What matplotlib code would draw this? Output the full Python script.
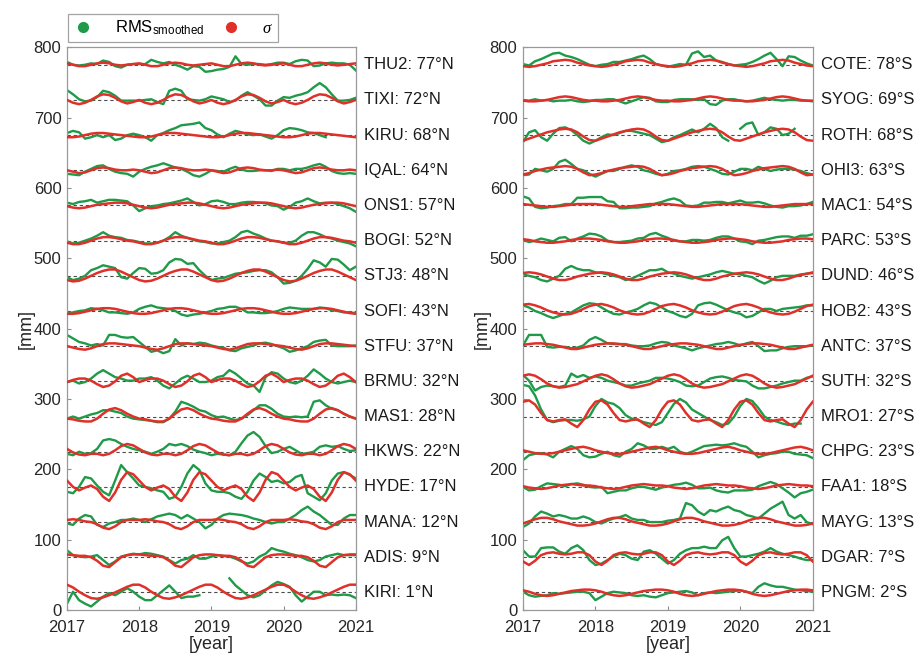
import numpy as np
import matplotlib.pyplot as plt
from matplotlib.lines import Line2D

nan = np.nan

# monthly epochs, Jan 2017 .. Jan 2021
years = 2017 + np.arange(49) / 12.0

# vertical offsets of the stacked station series [mm]
offsets = np.arange(775, 0, -50)

labels_north = ["THU2: 77°N", "TIXI: 72°N", "KIRU: 68°N", "IQAL: 64°N",
                "ONS1: 57°N", "BOGI: 52°N", "STJ3: 48°N", "SOFI: 43°N",
                "STFU: 37°N", "BRMU: 32°N", "MAS1: 28°N", "HKWS: 22°N",
                "HYDE: 17°N", "MANA: 12°N", "ADIS: 9°N", "KIRI: 1°N"]
labels_south = ["COTE: 78°S", "SYOG: 69°S", "ROTH: 68°S", "OHI3: 63°S",
                "MAC1: 54°S", "PARC: 53°S", "DUND: 46°S", "HOB2: 43°S",
                "ANTC: 37°S", "SUTH: 32°S", "MRO1: 27°S", "CHPG: 23°S",
                "FAA1: 18°S", "MAYG: 13°S", "DGAR: 7°S", "PNGM: 2°S"]

# smoothed RMS, monthly, deviation from offset [mm]
rms_thu2 = [4,0,-1,0,2,1,6,4,-2,-4,0,1,1,1,7,4,2,4,0,-3,-7,-2,-3,-10,-9,-7,-6,-3,12,1,0,1,1,0,1,3,3,1,5,7,6,-2,-1,2,3,2,2,0,-8]
rms_tixi = [14,8,1,-2,-1,4,13,11,6,-1,-1,-1,-1,0,1,-3,-6,13,16,13,1,0,-1,1,5,3,1,-3,-1,6,11,6,1,-8,-8,-1,4,3,6,8,11,18,24,18,8,-1,-1,0,3]
rms_kiru = [3,6,4,-5,-3,0,-3,0,-7,-5,0,2,0,-3,-8,0,3,7,10,14,15,16,18,10,7,1,-3,2,6,4,1,0,1,-2,-5,0,7,10,9,7,4,3,0,-3,nan,nan,nan,nan,nan]
rms_iqal = [-5,-6,-7,-2,2,6,7,2,-2,-4,-5,-9,-2,2,5,7,10,7,4,2,-2,-7,-9,-5,0,-1,-2,2,5,1,-1,-1,0,0,-1,2,2,0,2,2,4,7,9,5,-1,-4,-5,-4,-5]
rms_ons1 = [4,2,5,6,8,4,6,8,8,7,6,0,-8,-4,-1,0,2,3,5,7,10,5,0,2,6,7,5,2,2,4,5,5,4,3,0,-1,-6,-2,4,6,10,6,3,4,4,2,-1,-4,-9]
rms_bogi = [-1,-4,-3,0,3,7,12,7,5,4,1,0,-2,-4,-4,-3,0,5,12,7,4,1,-1,-2,-4,-4,-2,0,5,12,14,10,7,3,0,-1,-3,-3,0,7,12,12,9,5,3,0,-2,-4,-8]
rms_stj3 = [-2,-6,-4,0,8,11,15,13,11,-2,-4,4,11,10,3,4,8,19,24,23,17,18,8,0,-6,-4,-3,0,3,4,5,7,8,8,5,-2,-11,-10,-7,0,10,22,19,13,24,23,16,8,13]
rms_sofi = [-3,-2,0,1,4,3,1,-2,-2,-3,-4,-2,3,6,8,5,4,3,0,-5,-7,-5,-4,-2,0,3,4,6,6,3,-2,-2,-3,-3,-2,0,3,5,4,3,3,3,5,4,1,0,-2,-2,-3]
rms_stfu = [16,11,6,4,1,3,1,16,16,13,12,13,6,-1,-8,-6,-10,-7,10,1,4,3,5,4,1,-1,-2,-6,-7,-3,-1,1,4,5,3,0,-3,-8,-6,-3,0,6,8,9,1,0,0,0,1]
rms_brmu = [-1,1,-3,-1,4,11,16,11,6,4,1,1,4,4,6,1,-6,-10,-3,4,8,4,-1,-1,1,6,8,16,11,4,-3,-6,-15,6,13,11,4,-1,-3,1,8,17,11,4,-1,-3,-1,1,-1]
rms_mas1 = [-3,0,-3,0,3,5,9,9,7,5,0,-3,-4,-5,-6,-8,-8,-3,7,21,18,14,9,7,2,-1,0,-3,-5,-3,2,9,16,16,11,4,0,-1,0,-1,0,21,23,16,11,9,4,0,-3]
rms_hkws = [-3,-5,0,-3,-2,4,16,18,16,11,7,4,2,0,-3,0,4,11,9,11,8,3,0,-2,-5,-3,-4,-5,0,12,23,28,21,8,-2,0,4,7,2,-3,-2,0,7,9,7,8,4,1,2]
rms_hyde = [-7,-9,0,14,12,2,-7,-12,9,31,21,12,2,0,-2,-5,-7,-17,-14,0,19,31,24,5,-5,-7,-7,-9,-14,-17,-7,9,19,14,7,9,5,7,14,17,-9,-14,-19,-9,9,19,21,17,12]
rms_mana = [-2,-4,5,10,8,-4,-7,-2,0,3,3,5,3,0,4,8,10,12,10,5,10,5,0,-9,-4,5,10,12,11,10,8,5,3,0,-2,0,0,5,10,17,22,15,10,3,-4,-4,5,10,10]
rms_adis = [10,3,1,0,1,3,-4,-11,-6,1,3,5,4,6,5,3,1,-4,-9,-4,-2,3,-2,-2,1,3,2,1,-2,-6,-9,-6,1,5,13,10,8,5,3,0,-4,-6,-4,1,3,5,3,3,3]
rms_kiri = [-16,1,-11,-16,-20,-13,-6,-1,-4,1,6,1,-6,-11,-11,-4,3,10,1,-8,-6,-6,-4,nan,nan,nan,nan,20,10,3,-4,-7,-4,3,10,15,12,8,-4,-13,-6,1,1,-4,-3,-4,-3,-4,-8]

rms_cote = [1,-1,5,8,12,16,17,13,11,8,4,0,-2,0,1,4,4,6,8,11,13,8,1,-1,-3,-1,1,0,16,19,11,13,6,4,1,-1,0,1,4,8,13,17,8,-2,12,11,6,2,-1]
rms_syog = [0,-1,1,-1,0,-2,-1,-1,0,-2,-3,-2,0,0,1,1,-2,-5,-2,1,4,3,-2,-3,-3,0,1,1,1,0,1,-6,-7,-1,1,1,-1,-2,-1,1,3,1,0,-1,0,0,-1,-1,-2]
rms_roth = [-10,4,7,-3,-8,2,10,11,7,0,-8,-12,-8,-3,1,0,3,6,6,4,2,0,-5,-10,-8,-3,0,4,8,4,9,16,10,-3,-8,nan,9,16,18,0,4,11,9,0,2,9,nan,nan,nan]
rms_ohi3 = [-7,-6,2,0,-2,2,12,15,9,2,0,-5,-9,-5,-1,-1,2,5,7,5,0,-2,-5,-7,-5,-1,0,2,5,6,5,2,-1,-5,-6,-2,2,2,0,5,2,-1,1,2,2,1,-1,-4,-6]
rms_mac1 = [13,10,-2,-4,-3,-1,0,2,2,11,11,12,12,12,6,5,-4,-4,-3,-3,-2,-1,3,5,8,10,7,0,-1,0,4,4,5,5,3,5,7,4,4,5,3,0,-2,-3,-1,-1,0,2,5]
rms_parc = [1,-2,0,3,1,-1,4,5,-1,3,6,10,9,6,0,-2,-2,-1,0,3,4,9,11,7,4,0,-1,-1,1,1,0,1,4,6,6,3,-1,-2,-5,0,1,3,5,6,6,4,7,7,9]
rms_dund = [2,0,-2,-6,-8,-4,0,10,14,10,8,8,5,4,2,0,-2,-6,-4,0,4,8,8,10,5,3,0,-2,-4,-2,0,2,5,7,5,3,2,0,-2,-7,-11,-7,-2,0,0,0,2,3,5]
rms_hob2 = [8,5,0,-3,-7,-10,-7,-4,-2,3,8,11,10,5,0,-4,-5,-2,0,3,8,12,10,5,0,-3,-7,-9,-4,8,11,12,9,5,1,-2,-4,-9,-7,-2,3,3,0,3,4,5,6,8,8]
rms_antc = [1,16,16,16,-1,-2,-1,-1,-3,-2,1,9,13,9,4,3,3,3,1,0,0,1,4,6,5,1,-1,-3,-6,-3,-1,1,3,4,6,4,1,4,6,0,-7,-6,-6,-3,-1,0,0,0,1]
rms_suth = [9,1,-13,-8,-6,-7,-8,-6,11,6,9,5,7,5,1,-1,-3,-6,-6,-3,-1,1,5,5,4,2,-1,-6,-7,-6,-1,4,6,7,5,2,1,0,-6,-10,-10,-8,-6,-3,-1,1,1,5,7]
rms_mro1 = [45,43,30,10,-5,-8,-6,-5,-5,-6,-4,0,15,25,20,18,12,2,-3,-5,-8,-10,-12,-8,5,18,25,20,10,5,0,-5,-8,-12,-10,0,15,25,22,12,0,-5,-7,-10,-12,-10,-10,nan,nan]
rms_chpg = [-12,-5,-3,-2,-4,-8,0,4,8,4,-5,-8,-7,-3,0,-5,-7,0,4,12,9,4,4,7,4,7,0,-3,0,4,8,9,10,9,10,12,9,7,0,-8,-5,-3,-2,0,0,-3,-4,-5,-9]
rms_faa1 = [0,-5,-4,1,5,4,3,1,4,5,3,0,-1,0,-9,-7,-5,-5,-2,0,0,-2,-4,-1,1,3,4,6,3,-2,-2,-1,-5,-7,-8,-5,-5,-5,-4,1,4,7,4,-2,-8,-15,-9,-7,-4]
rms_mayg = [-7,-2,8,15,12,8,10,8,5,5,8,5,0,-2,2,5,7,10,5,3,3,0,0,0,2,3,5,27,24,15,10,17,15,19,22,17,15,10,8,5,12,19,24,29,10,5,10,0,-3]
rms_dgar = [10,1,1,13,14,14,8,5,13,17,10,-4,-11,-9,-4,1,5,3,-2,-4,8,10,5,-2,-9,-4,5,10,13,13,15,13,13,24,29,13,1,1,3,5,8,13,8,5,3,1,-2,-4,-4]
rms_pngm = [1,-4,-6,-5,-4,-1,-2,-1,0,1,1,-1,-11,-6,-1,1,0,-1,-4,-5,-4,-6,-7,-4,-1,0,1,2,0,-4,-1,0,-1,0,1,2,3,1,-1,8,13,10,8,8,6,4,3,2,1]

# seasonal sigma, one value per calendar month (Jan..Dec) [mm]
sig_thu2 = [2,0,-2,-2,0,2,3,2,0,-1,0,1]
sig_tixi = [0,-4,-6,-4,0,5,8,7,3,-2,-5,-3]
sig_kiru = [-3,-3,-2,0,2,3,3,2,1,0,-1,-2]
sig_iqal = [0,-2,-4,-3,0,3,4,3,1,0,0,1]
sig_ons1 = [-1,-3,-4,-3,-1,1,2,3,4,4,3,1]
sig_bogi = [-3,-5,-5,-3,0,3,5,5,4,2,0,-1]
sig_stj3 = [-6,-8,-7,-4,0,4,7,9,9,6,2,-2]
sig_sofi = [-4,-4,-3,-1,1,3,4,4,3,1,-1,-3]
sig_stfu = [0,-2,-4,-5,-3,0,3,4,4,3,2,1]
sig_brmu = [-1,2,4,4,1,-4,-8,-6,0,8,11,6]
sig_mas1 = [-3,-4,-6,-7,-7,-3,4,10,12,9,4,0]
sig_hkws = [4,-1,-4,-5,-3,-3,-5,-3,2,8,11,9]
sig_hyde = [9,0,-5,-1,2,-3,-14,-20,-8,10,21,18]
sig_mana = [3,4,3,1,0,-3,-8,-10,-6,0,3,3]
sig_adis = [4,3,2,2,0,-5,-12,-14,-7,0,3,4]
sig_kiri = [11,7,1,-4,-8,-9,-7,-4,0,4,8,11]

sig_cote = [-2,-3,-2,0,2,5,6,7,6,3,1,-1]
sig_syog = [-1,-2,-2,-1,0,2,4,5,4,2,0,-1]
sig_roth = [-8,-5,-2,1,4,6,8,9,8,4,-2,-7]
sig_ohi3 = [-6,-4,-1,1,3,4,5,6,5,2,-3,-7]
sig_mac1 = [2,1,0,-1,-2,-2,-1,0,1,2,2,2]
sig_parc = [2,1,-1,-2,-3,-3,-2,-1,1,2,3,3]
sig_dund = [4,5,4,2,-1,-4,-6,-6,-4,-1,1,3]
sig_hob2 = [9,10,8,5,1,-2,-4,-5,-4,-1,3,7]
sig_antc = [2,3,4,4,3,2,0,-2,-4,-4,-2,0]
sig_suth = [8,10,8,3,-3,-7,-9,-8,-6,-4,0,4]
sig_mro1 = [21,23,17,5,-5,-7,-5,-4,-10,-15,-5,10]
sig_chpg = [2,0,-2,-3,-3,-2,0,2,4,6,7,5]
sig_faa1 = [1,-1,-2,-3,-2,0,2,3,4,3,2,2]
sig_mayg = [-2,1,4,6,6,4,1,-1,-3,-5,-5,-4]
sig_dgar = [-6,-11,-5,3,6,7,5,4,5,7,7,3]
sig_pngm = [3,1,-2,-4,-5,-4,-2,0,2,3,4,4]

rms_north = [rms_thu2, rms_tixi, rms_kiru, rms_iqal, rms_ons1, rms_bogi, rms_stj3, rms_sofi,
             rms_stfu, rms_brmu, rms_mas1, rms_hkws, rms_hyde, rms_mana, rms_adis, rms_kiri]
sig_north = [sig_thu2, sig_tixi, sig_kiru, sig_iqal, sig_ons1, sig_bogi, sig_stj3, sig_sofi,
             sig_stfu, sig_brmu, sig_mas1, sig_hkws, sig_hyde, sig_mana, sig_adis, sig_kiri]
rms_south = [rms_cote, rms_syog, rms_roth, rms_ohi3, rms_mac1, rms_parc, rms_dund, rms_hob2,
             rms_antc, rms_suth, rms_mro1, rms_chpg, rms_faa1, rms_mayg, rms_dgar, rms_pngm]
sig_south = [sig_cote, sig_syog, sig_roth, sig_ohi3, sig_mac1, sig_parc, sig_dund, sig_hob2,
             sig_antc, sig_suth, sig_mro1, sig_chpg, sig_faa1, sig_mayg, sig_dgar, sig_pngm]

GREEN = '#1f9a48'
RED = '#e0302a'

plt.rcParams['font.family'] = ['Liberation Sans', 'DejaVu Sans']
plt.rcParams['mathtext.fontset'] = 'custom'
plt.rcParams['mathtext.rm'] = 'Liberation Sans'
plt.rcParams['mathtext.it'] = 'Liberation Serif:italic'


def draw_panel(ax, labels, rms_list, sig_list):
    for base, label, rms, sig in zip(offsets, labels, rms_list, sig_list):
        # the seasonal model repeats every year
        sig_full = np.concatenate([np.tile(sig, 4), sig[:1]])
        ax.axhline(base, color='0.3', lw=0.8, ls=(0, (3, 2.5)), zorder=1)
        ax.plot(years, base + np.array(rms, dtype=float), color=GREEN, lw=1.7, zorder=2)
        ax.plot(years, base + sig_full, color=RED, lw=1.8, zorder=3)
        ax.text(1.027, base, label, transform=ax.get_yaxis_transform(),
                va='center', ha='left', fontsize=12, color='0.1')

    ax.set_xlim(2017, 2021)
    ax.set_ylim(0, 800)
    ax.set_xticks([2017, 2018, 2019, 2020, 2021])
    ax.set_yticks(np.arange(0, 801, 100))
    ax.tick_params(direction='in', length=3, color='0.55', labelsize=12,
                   labelcolor='0.15')
    ax.tick_params(axis='x', pad=7)
    ax.tick_params(axis='y', pad=4)
    for sp in ax.spines.values():
        sp.set_color('0.6')
        sp.set_linewidth(0.9)
    ax.set_xlabel('[year]', fontsize=13, color='0.15', labelpad=1)
    ax.set_ylabel('[mm]', fontsize=13, color='0.15', labelpad=-1)


fig = plt.figure(figsize=(9.14, 6.56), dpi=100)
ax_n = fig.add_axes([0.0733, 0.0701, 0.316, 0.858])
ax_s = fig.add_axes([0.5722, 0.0701, 0.317, 0.858])

draw_panel(ax_n, labels_north, rms_north, sig_north)
draw_panel(ax_s, labels_south, rms_south, sig_south)

handles = [Line2D([], [], ls='none', marker='o', ms=7, color=GREEN),
           Line2D([], [], ls='none', marker='o', ms=7, color=RED)]
leg = fig.legend(handles, [r'RMS$_{\rm smoothed}$', r'$\sigma$'],
                 loc='lower left', bbox_to_anchor=(68 / 914, 1 - 42 / 656),
                 ncol=2, fontsize=12, frameon=True, fancybox=False,
                 edgecolor='0.55', handletextpad=1.3, columnspacing=1.0,
                 borderpad=0.3, handlelength=1.2, borderaxespad=0)
leg.get_frame().set_linewidth(0.9)

fig.savefig('out.png', dpi=100)
